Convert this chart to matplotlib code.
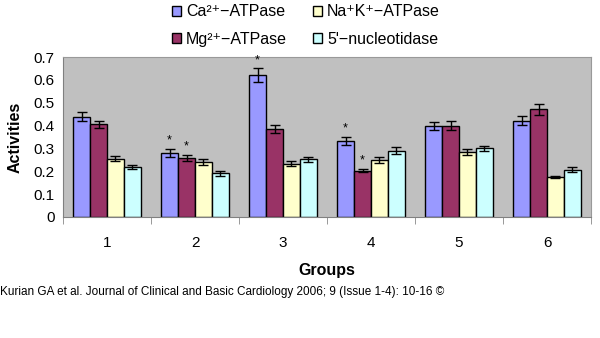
import matplotlib
matplotlib.use("Agg")
import matplotlib.pyplot as plt
import numpy as np

plt.rcParams["font.family"] = ["Liberation Sans", "DejaVu Sans"]

groups = ["1", "2", "3", "4", "5", "6"]
series = ["Ca\u00b2\u207a\u2212ATPase", "Mg\u00b2\u207a\u2212ATPase",
          "Na\u207aK\u207a\u2212ATPase", "5'\u2212nucleotidase"]
ca = [0.439, 0.280, 0.621, 0.334, 0.400, 0.421]
mg = [0.405, 0.258, 0.384, 0.203, 0.400, 0.471]
nak = [0.256, 0.242, 0.234, 0.250, 0.285, 0.175]
nuc = [0.218, 0.191, 0.252, 0.290, 0.300, 0.207]
ca_err = [0.020, 0.017, 0.030, 0.018, 0.017, 0.020]
mg_err = [0.017, 0.015, 0.018, 0.008, 0.020, 0.025]
nak_err = [0.012, 0.014, 0.010, 0.014, 0.012, 0.006]
nuc_err = [0.010, 0.010, 0.010, 0.015, 0.012, 0.010]
# asterisks: (series index, group index)
stars = [(0, 1), (1, 1), (0, 2), (0, 3), (1, 3)]

colors = ["#9999FF", "#993366", "#FFFFCC", "#CCFFFF"]
values = [ca, mg, nak, nuc]
errors = [ca_err, mg_err, nak_err, nuc_err]

fig = plt.figure(figsize=(6, 3.38), dpi=100)
ax = fig.add_axes([0.105, 0.358, 0.88, 0.473])
ax.set_facecolor("#C0C0C0")

x = np.arange(1, len(groups) + 1)
w = 0.193
for i in range(4):
    pos = x + (i - 1.5) * w
    ax.bar(pos, values[i], w, color=colors[i], edgecolor="black",
           linewidth=1.0, label=series[i], zorder=2)
    ax.errorbar(pos, values[i], yerr=errors[i], fmt="none", ecolor="black",
                elinewidth=1.0, capsize=3.5, capthick=1.0, zorder=3)

for s, g in stars:
    px = x[g] + (s - 1.5) * w
    py = values[s][g] + errors[s][g] + 0.010
    ax.text(px, py, "*", ha="center", va="bottom", fontsize=9)

ax.set_xlim(0.5, 6.5)
ax.set_ylim(0, 0.7)
ax.set_yticks(np.arange(0, 0.71, 0.1))
ax.set_yticklabels(["0", "0.1", "0.2", "0.3", "0.4", "0.5", "0.6", "0.7"],
                   fontsize=11)
ax.set_xticks(x)
ax.set_xticklabels(groups, fontsize=11)
ax.set_xticks(np.arange(0.5, 6.6, 1), minor=True)
ax.tick_params(axis="x", which="major", length=0, pad=14)
ax.tick_params(axis="x", which="minor", length=5, color="#888888")
ax.tick_params(axis="y", length=0, pad=6)
for sp in ["top", "right"]:
    ax.spines[sp].set_color("#999999")
ax.spines["left"].set_color("#808080")
ax.spines["bottom"].set_color("#808080")

ax.set_xlabel("Groups", fontsize=11.5, fontweight="bold", labelpad=9)
ax.set_ylabel("Activities", fontsize=11.5, fontweight="bold", labelpad=8)

fig.legend(ncol=2, loc="upper left", bbox_to_anchor=(0.262, 1.03),
           frameon=False, fontsize=11.5, handlelength=0.6, handleheight=0.6,
           columnspacing=1.6, handletextpad=0.3, labelspacing=0.8)

fig.text(0.0, 0.136, "Kurian GA et al. Journal of Clinical and Basic Cardiology "
         "2006; 9 (Issue 1-4): 10-16 \u00a9", fontsize=8.5, ha="left",
         va="center")

fig.savefig("out.png", dpi=100)
